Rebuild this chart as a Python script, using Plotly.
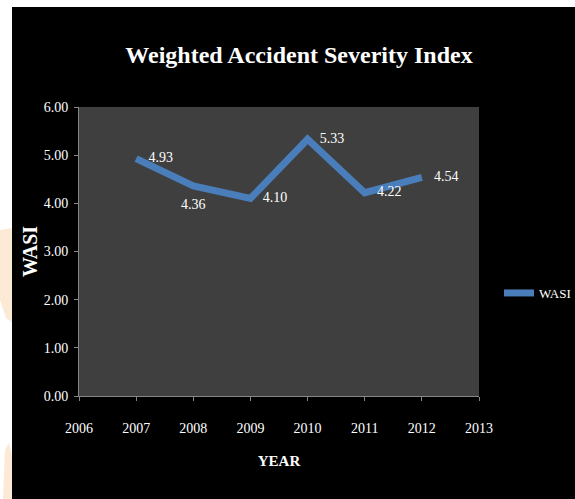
import plotly.graph_objects as go

years = [2007, 2008, 2009, 2010, 2011, 2012]
wasi = [4.93, 4.36, 4.10, 5.33, 4.22, 4.54]
labels = ["4.93", "4.36", "4.10", "5.33", "4.22", "4.54"]
label_pos = ["middle right", "bottom center", "middle right", "middle right", "middle right", "middle right"]
y_ticks = [0, 1, 2, 3, 4, 5, 6]
x_ticks = [2006, 2007, 2008, 2009, 2010, 2011, 2012, 2013]

FONT = "Liberation Serif"
W, H = 575, 499
L, R, T, B = 79, 96, 107, 103


def px(xp):
    return (xp - L) / (W - L - R)


def py(yp):
    return (H - B - yp) / (H - T - B)


fig = go.Figure()
fig.add_trace(go.Scatter(
    x=years, y=wasi, mode="lines+markers+text", name="WASI",
    text=labels, textposition=label_pos,
    textfont=dict(family=FONT, size=14, color="white"),
    line=dict(color="#4A7EBB", width=7),
    marker=dict(size=18, color="rgba(0,0,0,0)", line=dict(width=0)),
))

shapes = [
    dict(type="rect", xref="paper", yref="paper", x0=px(-10), x1=px(600), y0=py(7), y1=py(-10),
         fillcolor="white", line=dict(width=0), layer="above"),
    dict(type="rect", xref="paper", yref="paper", x0=px(-10), x1=px(12), y0=py(510), y1=py(-10),
         fillcolor="white", line=dict(width=0), layer="above"),
    dict(type="path", xref="paper", yref="paper",
         path=f"M {px(0)},{py(230)} L {px(12)},{py(228)} L {px(12)},{py(322)} L {px(6)},{py(318)} L {px(0)},{py(300)} Z",
         fillcolor="#FDEAD6", line=dict(width=0), layer="above"),
    dict(type="path", xref="paper", yref="paper",
         path=f"M {px(3)},{py(499)} L {px(5)},{py(450)} L {px(9)},{py(443)} L {px(12)},{py(455)} L {px(12)},{py(499)} Z",
         fillcolor="#FDEAD6", line=dict(width=0), layer="above"),
]

fig.update_layout(
    width=W, height=H,
    margin=dict(l=L, r=R, t=T, b=B, autoexpand=False),
    paper_bgcolor="black",
    plot_bgcolor="#3F3F3F",
    font=dict(family=FONT, color="white", size=14),
    title=dict(text="Weighted Accident Severity Index",
               font=dict(family=FONT, size=24, color="white", weight="bold"),
               xref="paper", x=px(299), xanchor="center",
               yref="container", y=1 - 55 / H, yanchor="middle"),
    showlegend=True,
    legend=dict(x=px(499), y=py(293), xanchor="left", yanchor="middle",
                bgcolor="rgba(0,0,0,0)", font=dict(family=FONT, size=13, color="white")),
    shapes=shapes,
    xaxis=dict(range=[2006, 2013], tickvals=x_ticks, ticktext=[str(v) for v in x_ticks],
               showgrid=False, zeroline=False, showline=True, linecolor="#868686", linewidth=1,
               ticks="outside", ticklen=4, tickcolor="#868686",
               tickfont=dict(family=FONT, size=14, color="white"), ticklabelstandoff=15,
               title=dict(text="YEAR", standoff=20,
                          font=dict(family=FONT, size=15, color="white", weight="bold"))),
    yaxis=dict(range=[0, 6], tickvals=y_ticks, tickformat=".2f",
               showgrid=False, zeroline=False, showline=True, linecolor="#868686", linewidth=1,
               ticks="outside", ticklen=4, tickcolor="#868686",
               tickfont=dict(family=FONT, size=14, color="white"), ticklabelstandoff=3,
               title=dict(text="WASI", standoff=0,
                          font=dict(family=FONT, size=20, color="white", weight="bold"))),
)

fig.write_html("out.html")
